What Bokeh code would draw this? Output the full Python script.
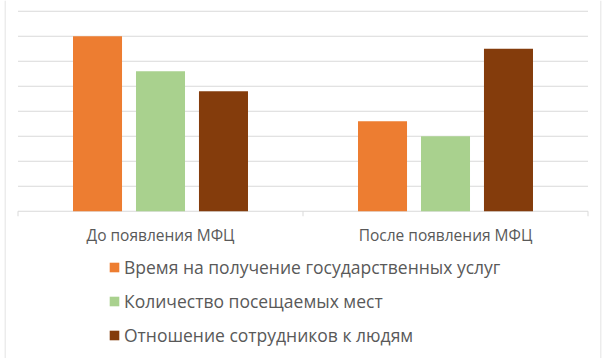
from bokeh.plotting import figure
from bokeh.models import (ColumnDataSource, FactorRange, Range1d, Legend, LegendItem, Span)
from bokeh.core.properties import value
from bokeh.transform import dodge
from bokeh.embed import file_html
from bokeh.resources import INLINE

categories = ["До появления МФЦ", "После появления МФЦ"]
series = ["Время на получение государственных услуг",
          "Количество посещаемых мест",
          "Отношение сотрудников к людям"]
time_vals = [7.0, 3.6]
places_vals = [5.6, 3.0]
attitude_vals = [4.8, 6.5]
colors = ["#ED7D31", "#A9D18E", "#843C0C"]
grid_vals = [0, 1, 2, 3, 4, 5, 6, 7, 8]
boundaries = [0, 1, 2]  # category boundaries (synthetic coords)

FONT = "Open Sans"
TEXT_COLOR = "#595959"
GRID = "#d9d9d9"

W, H = 607, 358
LEFT, RIGHT = 4, 6
CAT_PX = 285.0
PAD = 13.5 / CAT_PX
PX_PER_UNIT = 25.0
BASE_Y = 210.75

y_top = 8 + 10.75 / PX_PER_UNIT
y_bot = -(H - BASE_Y) / PX_PER_UNIT

src = ColumnDataSource(dict(cat=categories, t=time_vals, p=places_vals, a=attitude_vals))

p = figure(x_range=FactorRange(*categories, range_padding=PAD, range_padding_units="absolute"),
           y_range=Range1d(y_bot, y_top),
           width=W, height=H, output_backend="svg", toolbar_location=None,
           x_axis_location=None, y_axis_location=None,
           min_border_left=LEFT, min_border_right=RIGHT,
           min_border_top=0, min_border_bottom=0)
p.outline_line_color = None
p.background_fill_color = "white"
p.border_fill_color = "white"
p.xgrid.visible = False
p.ygrid.visible = False

# gridlines across the plot area only
n = len(grid_vals)
p.segment(x0=[0] * n, x1=[2] * n, y0=grid_vals, y1=grid_vals, line_color=GRID, line_width=1)
# boundary ticks below baseline
p.segment(x0=boundaries, x1=boundaries, y0=[0] * 3, y1=[-0.2] * 3,
          line_color=GRID, line_width=1)

off = 0.221
w = 0.172
r1 = p.vbar(x=dodge("cat", -off, range=p.x_range), top="t", bottom=0, width=w, source=src,
            fill_color=colors[0], line_color=None)
r2 = p.vbar(x=dodge("cat", 0, range=p.x_range), top="p", bottom=0, width=w, source=src,
            fill_color=colors[1], line_color=None)
r3 = p.vbar(x=dodge("cat", off, range=p.x_range), top="a", bottom=0, width=w, source=src,
            fill_color=colors[2], line_color=None)

# category labels
label_y = -(234 - BASE_Y) / PX_PER_UNIT
p.text(x=categories, y=[label_y] * len(categories), text=categories,
       text_align="center", text_baseline="middle",
       text_font=value(FONT), text_font_size="15.5px", text_color=TEXT_COLOR)

# chart border (left / right)
p.add_layout(Span(location=-PAD + 0.5 / CAT_PX, dimension="height", line_color=GRID, line_width=1))
p.add_layout(Span(location=2 + PAD - 0.5 / CAT_PX, dimension="height", line_color=GRID, line_width=1))

legend = Legend(items=[LegendItem(label=series[0], renderers=[r1]),
                       LegendItem(label=series[1], renderers=[r2]),
                       LegendItem(label=series[2], renderers=[r3])],
                orientation="vertical", location=(104, 11))
legend.border_line_color = None
legend.background_fill_alpha = 0
legend.label_text_font = FONT
legend.label_text_font_size = "17.5px"
legend.label_text_color = TEXT_COLOR
legend.glyph_width = 12
legend.glyph_height = 12
legend.label_standoff = 4
legend.label_height = 21
legend.spacing = 10
legend.padding = 0
legend.margin = 0
p.add_layout(legend, "center")

open("out.html", "w").write(file_html(p, INLINE))
